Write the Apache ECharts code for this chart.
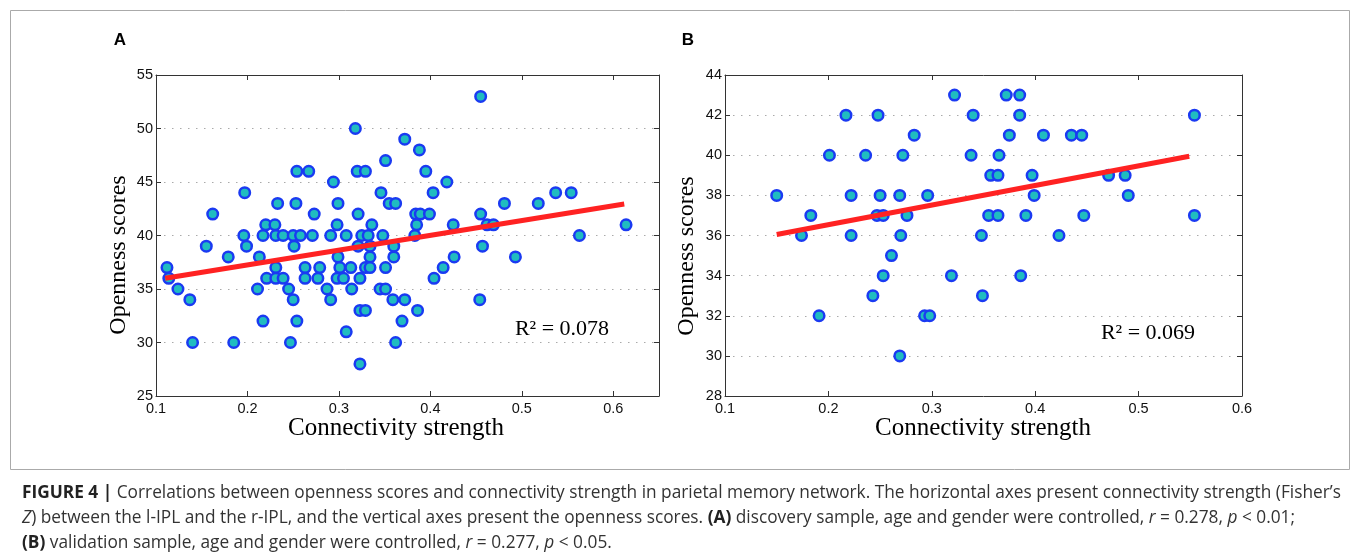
<!DOCTYPE html>
<html><head><meta charset="utf-8">
<script src="https://cdn.jsdelivr.net/npm/echarts@6/dist/echarts.min.js"></script>
<style>html,body{margin:0;padding:0;background:#fff}#c{width:1360px;height:557px}</style>
</head><body><div id="c"></div>
<script>
// Panel A (discovery sample): connectivity strength and openness scores
const aConn = [0.455,0.318,0.372,0.388,0.351,
  0.254,0.267,0.320,0.329,0.395,
  0.294,0.418,
  0.197,0.346,0.403,0.537,0.554,
  0.233,0.253,0.299,0.355,0.362,0.481,0.518,
  0.162,0.273,0.321,0.384,0.389,0.399,0.455,
  0.220,0.230,0.298,0.336,0.385,0.425,0.462,0.469,0.614,
  0.196,0.217,0.231,0.239,0.250,0.258,0.271,0.291,0.308,0.325,0.332,0.348,0.383,0.563,
  0.155,0.199,0.251,0.321,0.334,0.360,0.457,
  0.179,0.213,0.299,0.334,0.360,0.426,0.493,
  0.112,0.231,0.263,0.279,0.301,0.313,0.329,0.334,0.351,0.414,
  0.114,0.221,0.231,0.239,0.263,0.277,0.298,0.305,0.323,0.404,
  0.124,0.211,0.245,0.287,0.314,0.345,0.351,
  0.137,0.250,0.291,0.359,0.372,0.454,
  0.323,0.329,0.386,
  0.217,0.254,0.369,
  0.308,
  0.140,0.185,0.247,0.362,
  0.323];
const aOpen = [53,50,49,48,47,
  46,46,46,46,46,
  45,45,
  44,44,44,44,44,
  43,43,43,43,43,43,43,
  42,42,42,42,42,42,42,
  41,41,41,41,41,41,41,41,41,
  40,40,40,40,40,40,40,40,40,40,40,40,40,40,
  39,39,39,39,39,39,39,
  38,38,38,38,38,38,38,
  37,37,37,37,37,37,37,37,37,37,
  36,36,36,36,36,36,36,36,36,36,
  35,35,35,35,35,35,35,
  34,34,34,34,34,34,
  33,33,33,
  32,32,32,
  31,
  30,30,30,30,
  28];
// Panel B (validation sample)
const bConn = [0.322,0.372,0.385,
  0.217,0.248,0.340,0.385,0.554,
  0.283,0.375,0.408,0.435,0.445,
  0.201,0.236,0.272,0.338,0.365,
  0.357,0.364,0.397,0.471,0.487,
  0.150,0.222,0.250,0.269,0.296,0.399,0.490,
  0.183,0.247,0.253,0.276,0.355,0.364,0.391,0.447,0.554,
  0.174,0.222,0.270,0.348,0.423,
  0.261,
  0.253,0.319,0.386,
  0.243,0.349,
  0.191,0.293,0.298,
  0.269];
const bOpen = [43,43,43,
  42,42,42,42,42,
  41,41,41,41,41,
  40,40,40,40,40,
  39,39,39,39,39,
  38,38,38,38,38,38,38,
  37,37,37,37,37,37,37,37,37,
  36,36,36,36,36,
  35,
  34,34,34,
  33,33,
  32,32,32,
  30];
// Regression lines (end points)
const aFitConn = [0.110, 0.612];
const aFitOpen = [36.0, 42.95];
const bFitConn = [0.150, 0.549];
const bFitOpen = [36.05, 39.95];
// Axis ranges / ticks
const aXRange = [0.1, 0.65], aYRange = [25, 55], aYStep = 5;
const bXRange = [0.1, 0.6],  bYRange = [28, 44], bYStep = 2;
const xStep = 0.1;
const r2Labels = ['R\u00B2 = 0.078', 'R\u00B2 = 0.069'];

const zip = (xs, ys) => xs.map((x, i) => [x, ys[i]]);
const AX = '#333';
const tickFont = {color:'#111', fontSize:14.5, fontFamily:'"Liberation Sans", Arial, sans-serif'};

function xAxes(g, r) {
  const base = {gridIndex:g, type:'value', min:r[0], max:r[1], interval:xStep,
    axisLine:{show:true, onZero:false, lineStyle:{color:AX, width:1}},
    axisTick:{show:true, inside:true, length:5, lineStyle:{color:AX}},
    splitLine:{show:false}};
  return [
    Object.assign({}, base, {position:'bottom',
      axisLabel:Object.assign({margin:5, showMaxLabel: g === 1, formatter:v=>v.toFixed(1)}, tickFont)}),
    Object.assign({}, base, {position:'top', axisLabel:{show:false}})
  ];
}
function yAxes(g, r, step) {
  const base = {gridIndex:g, type:'value', min:r[0], max:r[1], interval:step,
    axisLine:{show:true, onZero:false, lineStyle:{color:AX, width:1}},
    axisTick:{show:true, inside:true, length:5, lineStyle:{color:AX}}};
  return [
    Object.assign({}, base, {position:'left',
      axisLabel:Object.assign({margin:3}, tickFont),
      splitLine:{show:true, lineStyle:{color:'#aaa', width:1, type:[1.5,6.5]}}}),
    Object.assign({}, base, {position:'right', axisLabel:{show:false}, splitLine:{show:false}})
  ];
}
const scatterStyle = {color:'#20bcc0', borderColor:'#1a3af2', borderWidth:2.5, opacity:1};
const fitStyle = {color:'#ff2222', width:5};

const chart = echarts.init(document.getElementById('c'), null, {renderer:'canvas'});
const serif = '"Liberation Serif", "Times New Roman", serif';
const capFont = '"Open Sans", "Liberation Sans", Arial, sans-serif';
const capSize = 17.3;
const capRich = {
  b:{fontWeight:'bold', fontSize:capSize, fontFamily:capFont, fill:'#222'},
  i:{fontStyle:'italic', fontSize:capSize, fontFamily:capFont, fill:'#333'}
};
chart.setOption({
  animation:false,
  backgroundColor:'#fff',
  grid:[
    {left:156, top:75, width:503, height:321},
    {left:725, top:75, width:517, height:321}
  ],
  xAxis:[...xAxes(0, aXRange), ...xAxes(1, bXRange)],
  yAxis:[...yAxes(0, aYRange, aYStep), ...yAxes(1, bYRange, bYStep)],
  series:[
    {type:'scatter', xAxisIndex:0, yAxisIndex:0, data:zip(aConn, aOpen), symbol:'circle', symbolSize:10.5, itemStyle:scatterStyle, z:2},
    {type:'line', xAxisIndex:0, yAxisIndex:0, data:zip(aFitConn, aFitOpen), symbol:'none', lineStyle:fitStyle, z:3},
    {type:'scatter', xAxisIndex:2, yAxisIndex:2, data:zip(bConn, bOpen), symbol:'circle', symbolSize:10.5, itemStyle:scatterStyle, z:2},
    {type:'line', xAxisIndex:2, yAxisIndex:2, data:zip(bFitConn, bFitOpen), symbol:'none', lineStyle:fitStyle, z:3}
  ],
  graphic:[
    {type:'rect', shape:{x:10.5, y:10.5, width:1339, height:459}, style:{fill:'none', stroke:'#aaa', lineWidth:1}, silent:true},
    {type:'text', x:120, y:40, style:{text:'A', font:'bold 17px "Liberation Sans", Arial, sans-serif', fill:'#000', align:'center', verticalAlign:'middle'}},
    {type:'text', x:688, y:40, style:{text:'B', font:'bold 17px "Liberation Sans", Arial, sans-serif', fill:'#000', align:'center', verticalAlign:'middle'}},
    {type:'text', x:119, y:255, rotation:Math.PI/2, style:{text:'Openness scores', font:'24px '+serif, fill:'#000', align:'center', verticalAlign:'middle'}},
    {type:'text', x:687, y:256, rotation:Math.PI/2, style:{text:'Openness scores', font:'24px '+serif, fill:'#000', align:'center', verticalAlign:'middle'}},
    {type:'text', x:396, y:428, style:{text:'Connectivity strength', font:'25px '+serif, fill:'#000', align:'center', verticalAlign:'middle'}},
    {type:'text', x:983, y:428, style:{text:'Connectivity strength', font:'25px '+serif, fill:'#000', align:'center', verticalAlign:'middle'}},
    {type:'text', x:562, y:329, style:{text:r2Labels[0], font:'22px '+serif, fill:'#000', align:'center', verticalAlign:'middle'}},
    {type:'text', x:1148, y:333, style:{text:r2Labels[1], font:'22px '+serif, fill:'#000', align:'center', verticalAlign:'middle'}},
    {type:'text', x:22, y:493, style:{text:'{b|FIGURE 4 |} Correlations between openness scores and connectivity strength in parietal memory network. The horizontal axes present connectivity strength (Fisher\u2019s',
      font:capSize+'px '+capFont, fill:'#333', verticalAlign:'middle', rich:capRich}},
    {type:'text', x:22, y:518, style:{text:'{i|Z}) between the l-IPL and the r-IPL, and the vertical axes present the openness scores. {b|(A)} discovery sample, age and gender were controlled, {i|r} = 0.278, {i|p} < 0.01;',
      font:capSize+'px '+capFont, fill:'#333', verticalAlign:'middle', rich:capRich}},
    {type:'text', x:22, y:543, style:{text:'{b|(B)} validation sample, age and gender were controlled, {i|r} = 0.277, {i|p} < 0.05.',
      font:capSize+'px '+capFont, fill:'#333', verticalAlign:'middle', rich:capRich}}
  ]
});
</script></body></html>
